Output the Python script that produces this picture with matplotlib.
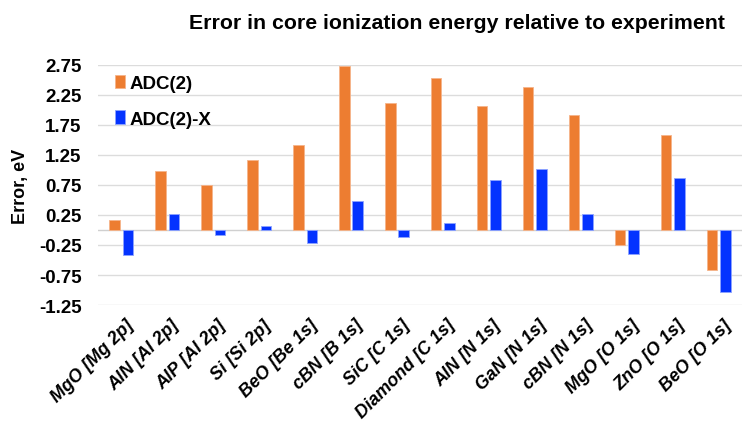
import numpy as np
import matplotlib
matplotlib.use('Agg')
import matplotlib.pyplot as plt

plt.rcParams['font.family'] = ['Liberation Sans', 'DejaVu Sans']

categories = ['MgO [Mg 2p]', 'AlN [Al 2p]', 'AlP [Al 2p]', 'Si [Si 2p]', 'BeO [Be 1s]',
              'cBN [B 1s]', 'SiC [C 1s]', 'Diamond [C 1s]', 'AlN [N 1s]', 'GaN [N 1s]',
              'cBN [N 1s]', 'MgO [O 1s]', 'ZnO [O 1s]', 'BeO [O 1s]']
adc2 = [0.16, 0.99, 0.75, 1.16, 1.41, 2.74, 2.12, 2.53, 2.07, 2.38, 1.91, -0.25, 1.58, -0.67]
adc2x = [-0.41, 0.26, -0.09, 0.06, -0.21, 0.48, -0.12, 0.11, 0.83, 1.01, 0.26, -0.40, 0.86, -1.04]
yticks = [2.75, 2.25, 1.75, 1.25, 0.75, 0.25, -0.25, -0.75, -1.25]

fig = plt.figure(figsize=(7.56, 4.31), dpi=100)
ax = fig.add_axes([0.13, 0.29, 0.851, 0.557])

x = np.arange(len(categories))
w = 0.23
ax.bar(x - 0.147, adc2, w, color='#ED7D31', edgecolor='#F5B48A', linewidth=0.6,
       label='ADC(2)', zorder=3)
ax.bar(x + 0.147, adc2x, w, color='#0433FF', edgecolor='#8DA3FF', linewidth=0.6,
       label='ADC(2)-X', zorder=3)

ax.set_xlim(-0.5, len(categories) - 0.5)
ax.set_ylim(-1.25, 2.75)
ax.set_yticks(yticks)
ax.set_yticklabels([f'{v:.2f}' for v in yticks], fontsize=13.5, fontweight='bold')
ax.yaxis.grid(True, color='#dcdcdc', linewidth=1, zorder=0)
ax.axhline(0, color='#d0d0d0', linewidth=1, zorder=1)
ax.tick_params(axis='y', length=0, pad=12)
ax.tick_params(axis='x', length=0, pad=8)
for s in ax.spines.values():
    s.set_visible(False)

ax.set_xticks(x + 0.08)
ax.set_xticklabels(categories, rotation=45, ha='right', rotation_mode='anchor',
                   fontsize=13, fontweight='bold', fontstyle='italic')

ax.set_ylabel('Error, eV', fontsize=13, fontweight='bold', labelpad=7)
fig.suptitle('Error in core ionization energy relative to experiment',
             fontsize=15.3, fontweight='bold', x=0.604, y=0.968)

ax.legend(loc='upper left', bbox_to_anchor=(0.0, 1.03), frameon=False,
          prop={'size': 13.5, 'weight': 'bold'}, handlelength=0.55, handleheight=0.7,
          handletextpad=0.2, labelspacing=1.0)

plt.savefig('out.png', dpi=100)
